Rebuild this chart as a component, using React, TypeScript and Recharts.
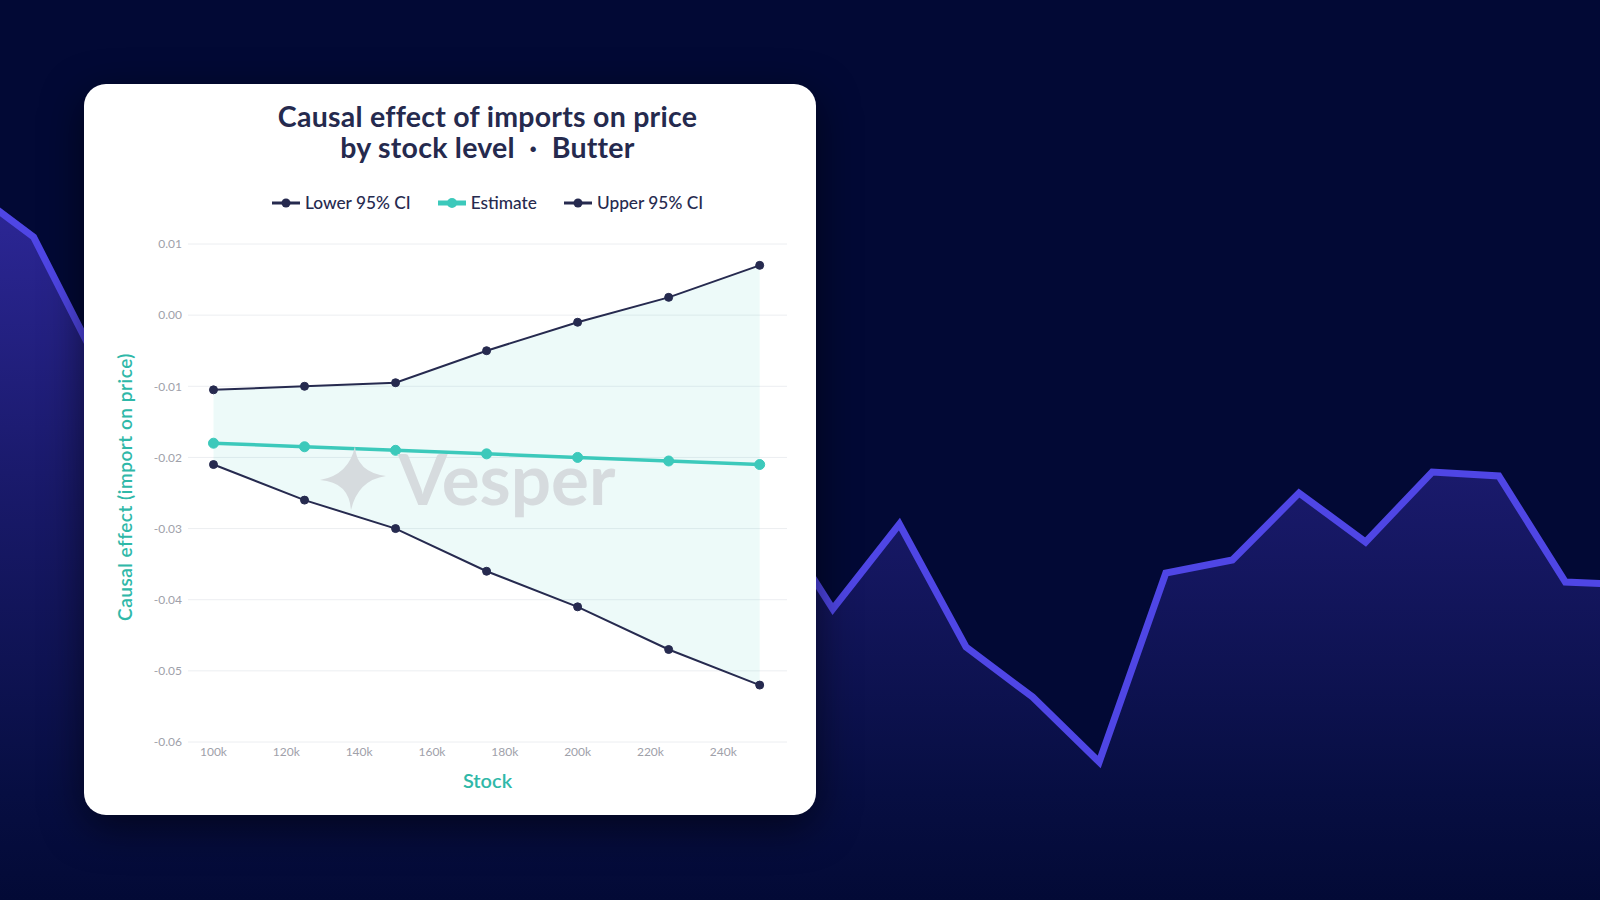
import React from "react";
import { ComposedChart, AreaChart, Area, Line, XAxis, YAxis, CartesianGrid } from "recharts";

// stock levels (x) and the three series
const stockLevels = [100000, 125000, 150000, 175000, 200000, 225000, 250000];
const lowerCI = [-0.021, -0.026, -0.03, -0.036, -0.041, -0.047, -0.052];
const estimate = [-0.018, -0.0185, -0.019, -0.0195, -0.02, -0.0205, -0.021];
const upperCI = [-0.0105, -0.01, -0.0095, -0.005, -0.001, 0.0025, 0.007];

const xTicks = [100000, 120000, 140000, 160000, 180000, 200000, 220000, 240000];
const yTicks = [0.01, 0, -0.01, -0.02, -0.03, -0.04, -0.05, -0.06];

// decorative background line (height above page bottom, px)
const bgLevels = [713, 663, 532, 470, 505, 430, 455, 385, 420, 360, 410, 380, 396, 291, 376, 253, 203, 138, 327, 340, 407, 358, 428, 424, 318, 315];

const NAVY = "#262a4f";
const TEAL = "#3cc9bb";
const LABEL_TEAL = "#2fb8a8";
const FONT = "Lato, 'Open Sans', sans-serif";

const data = stockLevels.map((s, i) => ({
  stock: s,
  lower: lowerCI[i],
  estimate: estimate[i],
  upper: upperCI[i],
  band: [lowerCI[i], upperCI[i]],
}));

const bgData = bgLevels.map((v, i) => ({ i, v }));

const legendItems = [
  { name: "Lower 95% CI", color: NAVY, width: 2 },
  { name: "Estimate", color: TEAL, width: 4 },
  { name: "Upper 95% CI", color: NAVY, width: 2 },
];

function Background() {
  return (
    <div style={{ position: "absolute", left: -33.5, top: 0 }}>
      <AreaChart width={25 * 66.6} height={900} data={bgData} margin={{ top: 0, right: 0, bottom: 0, left: 0 }}>
        <defs>
          <linearGradient id="bgFill" x1="0" y1="0" x2="0" y2="1">
            <stop offset="0%" stopColor="#2d2798" />
            <stop offset="40%" stopColor="#1a1a6c" />
            <stop offset="85%" stopColor="#070e42" />
            <stop offset="100%" stopColor="#030a36" />
          </linearGradient>
        </defs>
        <XAxis type="number" dataKey="i" domain={[0, 25]} hide />
        <YAxis type="number" domain={[0, 900]} hide />
        <Area
          type="linear"
          dataKey="v"
          stroke="#4f46e5"
          strokeWidth={7}
          fill="url(#bgFill)"
          fillOpacity={1}
          dot={false}
          activeDot={false}
          isAnimationActive={false}
        />
      </AreaChart>
    </div>
  );
}

function Watermark() {
  return (
    <div
      style={{
        position: "absolute",
        left: 236,
        top: 356,
        display: "flex",
        alignItems: "center",
        gap: 12,
        pointerEvents: "none",
      }}
    >
      <svg width={66} height={64} viewBox="-33 -32 66 64">
        <path d="M2,-32 Q3,-6 33,-2 Q5,2 -2,32 Q-4,4 -33,2 Q-4,-3 2,-32 Z" fill="#d6dbde" />
      </svg>
      <span style={{ fontFamily: FONT, fontWeight: 700, fontSize: 71, color: "#d6dbde", lineHeight: "76px" }}>Vesper</span>
    </div>
  );
}

function LegendRow() {
  return (
    <div
      style={{
        position: "absolute",
        left: 104,
        width: 599,
        top: 108,
        display: "flex",
        justifyContent: "center",
        gap: 27,
        fontFamily: FONT,
        fontSize: 17.3,
        fontWeight: 500,
        color: NAVY,
      }}
    >
      {legendItems.map((it) => (
        <div key={it.name} style={{ display: "flex", alignItems: "center", gap: 5 }}>
          <svg width={28} height={14}>
            <line x1={0} y1={7} x2={28} y2={7} stroke={it.color} strokeWidth={it.width + 1} />
            <circle cx={14} cy={7} r={it.width > 2 ? 5 : 4.5} fill={it.color} />
          </svg>
          <span>{it.name}</span>
        </div>
      ))}
    </div>
  );
}

function YTitle(props: any) {
  const { x, y, height } = props.viewBox;
  const cx = x + 20;
  const cy = y + height / 2 - 6;
  return (
    <text
      x={cx}
      y={cy}
      transform={`rotate(-90, ${cx}, ${cy})`}
      textAnchor="middle"
      dominantBaseline="central"
      fill={LABEL_TEAL}
      fontSize={19}
      fontWeight={600}
      fontFamily={FONT}
      letterSpacing={0.5}
    >
      Causal effect (import on price)
    </text>
  );
}

function CausalChart() {
  return (
    <div
      style={{
        position: "absolute",
        left: 84,
        top: 84,
        width: 732,
        height: 731,
        background: "#ffffff",
        borderRadius: 22,
        boxShadow: "0 12px 40px rgba(0,0,0,0.55)",
        overflow: "hidden",
      }}
    >
      <div
        style={{
          position: "absolute",
          left: 104,
          width: 599,
          top: 17,
          textAlign: "center",
          fontFamily: FONT,
          fontWeight: 700,
          fontSize: 28.5,
          letterSpacing: 0.25,
          lineHeight: "31px",
          color: "#252a4e",
        }}
      >
        <div>Causal effect of imports on price</div>
        <div>by stock level &nbsp;·&nbsp; Butter</div>
      </div>
      <LegendRow />
      <div style={{ position: "absolute", left: 0, top: 0 }}>
        <ComposedChart width={732} height={731} data={data} margin={{ top: 160, right: 29, left: 20, bottom: 13 }}>
          <CartesianGrid vertical={false} stroke="#eceef1" />
          <XAxis
            type="number"
            dataKey="stock"
            domain={[93000, 257500]}
            ticks={xTicks}
            tickFormatter={(v) => `${v / 1000}k`}
            axisLine={false}
            tickLine={false}
            tickSize={0}
            tickMargin={5}
            height={60}
            tick={{ fill: "#a0a1aa", fontSize: 12, fontFamily: FONT }}
            label={{
              value: "Stock",
              position: "insideBottom",
              offset: 14,
              fill: LABEL_TEAL,
              fontSize: 20,
              fontWeight: 600,
              fontFamily: FONT,
            }}
          />
          <YAxis
            type="number"
            domain={[-0.06, 0.01]}
            ticks={yTicks}
            tickFormatter={(v) => v.toFixed(2)}
            axisLine={false}
            tickLine={false}
            tickSize={0}
            tickMargin={6}
            width={84}
            tick={{ fill: "#a0a1aa", fontSize: 12, fontFamily: FONT }}
            label={{ content: YTitle }}
          />
          <Area
            type="linear"
            dataKey="band"
            stroke="none"
            fill={TEAL}
            fillOpacity={0.09}
            dot={false}
            activeDot={false}
            isAnimationActive={false}
          />
          <Line
            type="linear"
            dataKey="upper"
            stroke={NAVY}
            strokeWidth={2}
            dot={{ r: 4, fill: NAVY, stroke: NAVY, strokeWidth: 1 }}
            activeDot={false}
            isAnimationActive={false}
          />
          <Line
            type="linear"
            dataKey="lower"
            stroke={NAVY}
            strokeWidth={2}
            dot={{ r: 4, fill: NAVY, stroke: NAVY, strokeWidth: 1 }}
            activeDot={false}
            isAnimationActive={false}
          />
          <Line
            type="linear"
            dataKey="estimate"
            stroke={TEAL}
            strokeWidth={3.5}
            dot={{ r: 5, fill: TEAL, stroke: TEAL, strokeWidth: 1 }}
            activeDot={false}
            isAnimationActive={false}
          />
        </ComposedChart>
      </div>
      <Watermark />
    </div>
  );
}

export default function App() {
  return (
    <div
      style={{
        position: "fixed",
        left: 0,
        top: 0,
        width: 1600,
        height: 900,
        overflow: "hidden",
        background: "#020935",
      }}
    >
      <Background />
      <CausalChart />
    </div>
  );
}
